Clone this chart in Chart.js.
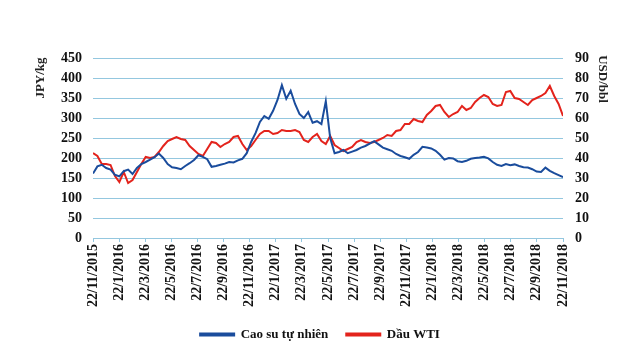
<!DOCTYPE html>
<html>
<head>
<meta charset="utf-8">
<script src="https://cdn.jsdelivr.net/npm/chart.js@4.4.1/dist/chart.umd.min.js"></script>
<style>
  html, body { margin: 0; padding: 0; background: #ffffff; }
  #wrap { width: 640px; height: 352px; position: relative; }
</style>
</head>
<body>
<div id="wrap"><canvas id="c" width="640" height="352"></canvas></div>
<script>
// Tick labels (every 2 months)
const tickLabels = ['22/11/2015','22/1/2016','22/3/2016','22/5/2016','22/7/2016','22/9/2016','22/11/2016','22/1/2017','22/3/2017','22/5/2017','22/7/2017','22/9/2017','22/11/2017','22/1/2018','22/3/2018','22/5/2018','22/7/2018','22/9/2018','22/11/2018'];

// Series names
const seriesNames = ['Cao su tự nhiên', 'Dầu WTI'];

// Natural rubber, JPY/kg (about every 10 days)
const rubber = [
  161,179,183,175,171,158,154,167,171,160,175,185,190,196,202,211,200,185,177,175,172,
  180,187,195,207,203,197,178,180,183,186,190,189,194,198,212,240,262,290,305,298,318,345,
  382,348,368,335,310,300,315,288,292,285,342,250,212,215,220,212,216,220,226,230,236,
  242,234,226,222,218,210,205,202,198,208,215,228,226,224,218,208,196,200,199,192,190,
  193,198,200,201,203,199,190,183,180,185,182,184,180,177,176,172,166,165,176,168,162,157,152
];

// WTI crude oil, USD/bbl
const wti = [
  42.5,41,37,37,36.5,31,28,33,27.5,29,33,37,40.5,40,40.5,43,46,48.5,49.5,50.5,49.5,
  49,46,44,42,41,44.5,48,47.5,45.5,47,48,50.5,51,47,44,46,49,52,53.5,53.5,52,52.5,
  54,53.5,53.5,54,53,49,48,50.5,52,48.5,47,51,46.5,45,43.5,44.5,45.5,48,49,48,47.5,48,
  49,50,51.5,51,53.5,54,57,57,59.5,58.5,58,61.5,63.5,66,66.5,63,60.5,62,63,66,64,
  65,68,70,71.5,70.5,67,66,66.5,73,73.5,70,69.5,68,66.5,69,70,71,72.5,76,71,67,61,55
];

const FONT = "'Liberation Serif', 'Times New Roman', serif";
const GRID = '#94c7df';
const BLUE = '#1a4c9c';
const RED = '#e3231c';

const toPoints = arr => arr.map((v, i) => ({ x: i, y: v }));
const lastIndex = rubber.length - 1;
const step = lastIndex / (tickLabels.length - 1);

const axisTitles = {
  id: 'axisTitles',
  afterDraw(chart) {
    const ctx = chart.ctx;
    ctx.save();
    ctx.fillStyle = '#222';
    ctx.font = 'bold 13px ' + FONT;
    ctx.textAlign = 'center';
    ctx.textBaseline = 'middle';
    ctx.save();
    ctx.translate(41, 78);
    ctx.rotate(-Math.PI / 2);
    ctx.fillText('JPY/kg', 0, 0);
    ctx.restore();
    ctx.save();
    ctx.translate(602, 79);
    ctx.rotate(Math.PI / 2);
    ctx.fillText('USD/bbl', 0, 0);
    ctx.restore();
    ctx.restore();
  }
};

new Chart(document.getElementById('c'), {
  type: 'line',
  data: {
    datasets: [
      { label: seriesNames[0], data: toPoints(rubber), yAxisID: 'y', borderColor: BLUE, backgroundColor: BLUE, borderWidth: 2, pointRadius: 0, tension: 0 },
      { label: seriesNames[1], data: toPoints(wti), yAxisID: 'y2', borderColor: RED, backgroundColor: RED, borderWidth: 2, pointRadius: 0, tension: 0 }
    ]
  },
  options: {
    responsive: false,
    animation: false,
    layout: { padding: { top: 58, left: 0, right: 0, bottom: 1 } },
    plugins: {
      legend: {
        position: 'bottom',
        labels: {
          font: { family: FONT, size: 13, weight: 'bold' },
          color: '#111',
          boxWidth: 34,
          boxHeight: 2,
          padding: 18
        }
      },
      tooltip: { enabled: false }
    },
    scales: {
      x: {
        type: 'linear',
        min: 0,
        max: lastIndex,
        afterFit: s => { s.height = 72; },
        afterBuildTicks: s => {
          s.ticks = tickLabels.map((t, k) => ({ value: k * step }));
        },
        ticks: {
          autoSkip: false,
          minRotation: 90,
          maxRotation: 90,
          padding: 2,
          color: '#111',
          font: { family: FONT, size: 14, weight: 'bold' },
          callback: (v) => tickLabels[Math.round(v / step)]
        },
        grid: { display: true, drawOnChartArea: false, drawTicks: true, tickLength: 4, color: GRID },
        border: { display: true, color: GRID }
      },
      y: {
        position: 'left',
        min: 0, max: 450,
        afterFit: s => { s.width = 93; },
        ticks: { stepSize: 50, padding: 11, color: '#111', font: { family: FONT, size: 14, weight: 'bold' } },
        grid: { color: GRID, drawTicks: false },
        border: { display: false }
      },
      y2: {
        position: 'right',
        min: 0, max: 90,
        afterFit: s => { s.width = 77; },
        ticks: { stepSize: 10, padding: 12, color: '#111', font: { family: FONT, size: 14, weight: 'bold' } },
        grid: { display: false, drawTicks: false },
        border: { display: false }
      }
    }
  },
  plugins: [axisTitles]
});
</script>
</body>
</html>
